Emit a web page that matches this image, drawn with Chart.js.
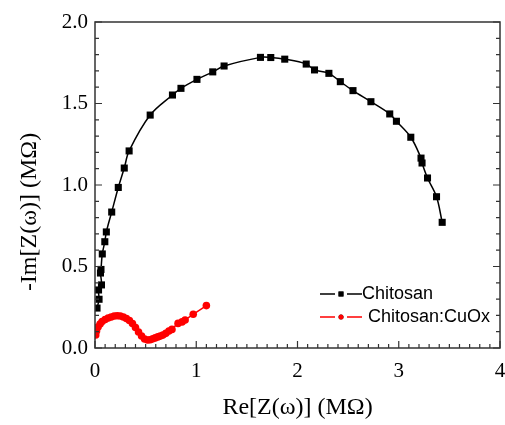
<!DOCTYPE html>
<html>
<head>
<meta charset="utf-8">
<script src="https://cdn.jsdelivr.net/npm/chart.js@4.4.0/dist/chart.umd.min.js"></script>
<style>
  html, body { margin: 0; padding: 0; background: #fff; }
  #wrap { width: 505px; height: 425px; }
</style>
</head>
<body>
<div id="wrap"><canvas id="nyquistChart"></canvas></div>
<script>
const seriesNames = ['Chitosan', 'Chitosan:CuOx'];

// Chitosan (MOhm)
const chitosanRe = [0.020, 0.040, 0.035, 0.064, 0.054, 0.059, 0.072, 0.097, 0.112, 0.165, 0.230, 0.289, 0.337,
  0.545, 0.765, 0.849, 1.007, 1.163, 1.275, 1.634, 1.736, 1.874, 2.086, 2.168, 2.310, 2.423, 2.548, 2.725,
  2.911, 2.977, 3.119, 3.220, 3.230, 3.284, 3.373, 3.429];
const chitosanIm = [0.245, 0.299, 0.356, 0.387, 0.460, 0.482, 0.577, 0.652, 0.712, 0.834, 0.985, 1.104, 1.209,
  1.429, 1.552, 1.593, 1.648, 1.694, 1.730, 1.783, 1.782, 1.772, 1.742, 1.706, 1.685, 1.634, 1.579, 1.511,
  1.436, 1.391, 1.293, 1.165, 1.135, 1.043, 0.928, 0.771];

// Chitosan:CuOx (MOhm)
const cuoxRe = [0.007, 0.015, 0.030, 0.050, 0.070, 0.100, 0.130, 0.160, 0.190, 0.220, 0.250, 0.280, 0.310,
  0.340, 0.370, 0.400, 0.430, 0.460, 0.490, 0.520, 0.545, 0.570, 0.595, 0.620, 0.645, 0.670, 0.700, 0.730,
  0.760, 0.820, 0.860, 0.890, 0.970, 1.100];
const cuoxIm = [0.080, 0.104, 0.129, 0.147, 0.163, 0.175, 0.184, 0.190, 0.196, 0.198, 0.196, 0.190, 0.181,
  0.169, 0.150, 0.126, 0.098, 0.074, 0.055, 0.049, 0.051, 0.056, 0.062, 0.068, 0.073, 0.079, 0.090, 0.104,
  0.114, 0.151, 0.160, 0.172, 0.207, 0.260];

const xTicks = [0, 1, 2, 3, 4];
const yTicks = [0.0, 0.5, 1.0, 1.5, 2.0];

function toPoints(xs, ys) {
  return xs.map((x, i) => ({ x: x, y: ys[i] }));
}

// frame + inward ticks (major and minor) + legend
const framePlugin = {
  id: 'framePlugin',
  afterDraw(chart) {
    const ctx = chart.ctx;
    const a = chart.chartArea;
    const xs = chart.scales.x, ys = chart.scales.y;
    ctx.save();
    ctx.strokeStyle = '#333';
    ctx.lineWidth = 1.5;
    ctx.strokeRect(a.left, a.top, a.right - a.left, a.bottom - a.top);

    ctx.lineWidth = 1.2;
    ctx.beginPath();
    for (let i = 0; i <= 40; i++) {
      const v = i / 10;
      const px = xs.getPixelForValue(v);
      const len = (i % 10 === 0) ? 7 : 4;
      ctx.moveTo(px, a.bottom);
      ctx.lineTo(px, a.bottom - len);
    }
    for (let i = 0; i <= 20; i++) {
      const v = i / 10;
      const py = ys.getPixelForValue(v);
      const len = (i % 5 === 0) ? 7 : 4;
      ctx.moveTo(a.left, py);
      ctx.lineTo(a.left + len, py);
      ctx.moveTo(a.right, py);
      ctx.lineTo(a.right - len, py);
    }
    ctx.stroke();

    // legend
    ctx.font = '18px "Liberation Sans", Arial, sans-serif';
    ctx.textBaseline = 'middle';
    chart.data.datasets.forEach((ds, i) => {
      const y = 294 + i * 23;
      const x0 = 320;
      ctx.strokeStyle = ds.borderColor;
      ctx.lineWidth = 1.5;
      ctx.beginPath();
      ctx.moveTo(x0, y); ctx.lineTo(x0 + 15, y);
      ctx.moveTo(x0 + 27, y); ctx.lineTo(x0 + 42, y);
      ctx.stroke();
      Chart.helpers.drawPoint(ctx, {
        pointStyle: ds.pointStyle, radius: i === 0 ? 3.5 : 2.5, borderWidth: 0
      }, x0 + 21, y);
      ctx.fillStyle = ds.backgroundColor;
      ctx.fill();
      ctx.fillStyle = '#000';
      ctx.fillText(seriesNames[i], i === 0 ? 362 : 368, y);
    });
    ctx.restore();
  }
};

const ctx = document.getElementById('nyquistChart');
const nyquistChart = new Chart(ctx.getContext('2d'), {
  type: 'scatter',
  data: {
    datasets: [{
      label: seriesNames[0],
      data: toPoints(chitosanRe, chitosanIm),
      showLine: true,
      borderColor: '#000',
      backgroundColor: '#000',
      borderWidth: 1.5,
      pointStyle: 'rect',
      pointRadius: 5,
      pointBorderWidth: 0,
      tension: 0.35
    }, {
      label: seriesNames[1],
      data: toPoints(cuoxRe, cuoxIm),
      showLine: true,
      borderColor: '#ff0000',
      backgroundColor: '#ff0000',
      borderWidth: 1.5,
      pointStyle: 'circle',
      pointRadius: 3.8,
      pointBorderWidth: 0,
      tension: 0.35
    }]
  },
  options: {
    responsive: true,
    maintainAspectRatio: false,
    animation: false,
    layout: { padding: { top: 22, right: 5, left: 0, bottom: 0 } },
    plugins: {
      legend: { display: false },
      tooltip: { enabled: false }
    },
    scales: {
      x: {
        type: 'linear',
        min: 0,
        max: 4,
        afterBuildTicks: function(scale) {
          scale.ticks = xTicks.map(v => ({ value: v }));
        },
        afterFit: function(scale) {
          scale.height = 77;
          scale.paddingLeft = 0;
          scale.paddingRight = 0;
        },
        grid: { display: false, drawTicks: false },
        border: { display: false },
        ticks: {
          padding: 11,
          color: '#000',
          font: { family: '"Liberation Serif", "Times New Roman", serif', size: 21 },
          callback: function(value) { return String(value); }
        },
        title: {
          display: true,
          text: 'Re[Z(ω)] (MΩ)',
          color: '#000',
          padding: { top: 0, bottom: 3 },
          font: { family: '"Liberation Serif", "Times New Roman", serif', size: 24 }
        }
      },
      y: {
        type: 'linear',
        min: 0,
        max: 2,
        afterBuildTicks: function(scale) {
          scale.ticks = yTicks.map(v => ({ value: v }));
        },
        afterFit: function(scale) {
          scale.width = 95;
          scale.paddingTop = 0;
          scale.paddingBottom = 0;
        },
        grid: { display: false, drawTicks: false },
        border: { display: false },
        ticks: {
          padding: 7,
          color: '#000',
          font: { family: '"Liberation Serif", "Times New Roman", serif', size: 21 },
          callback: function(value) { return Number(value).toFixed(1); }
        },
        title: {
          display: true,
          text: '-Im[Z(ω)] (MΩ)' + '\u00a0'.repeat(9),
          color: '#000',
          padding: { top: 15, bottom: 0 },
          font: { family: '"Liberation Serif", "Times New Roman", serif', size: 24 }
        }
      }
    }
  },
  plugins: [framePlugin]
});
</script>
</body>
</html>
